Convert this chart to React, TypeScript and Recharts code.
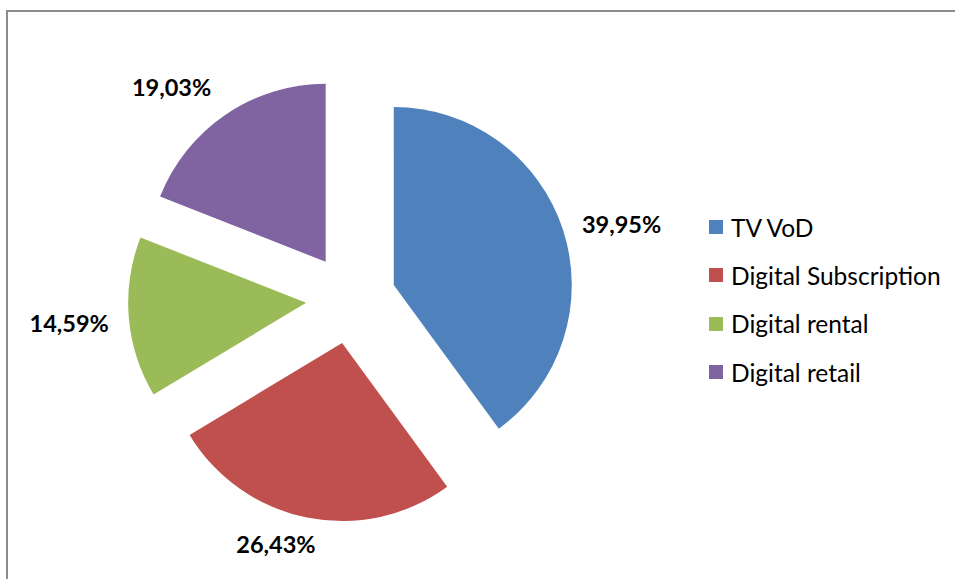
import React from "react";
import { PieChart, Pie, Cell, Legend } from "recharts";

const categories = ["TV VoD", "Digital Subscription", "Digital rental", "Digital retail"];
const shares = [39.95, 26.43, 14.59, 19.03];
const colors = ["#4F81BD", "#C0504D", "#9BBB59", "#8064A2"];

// hand nudges for the labels Excel moved off the mid line
const labelNudge = [
  [0, 0],
  [-27, -3],
  [0, 4],
  [-3, -2],
];

const data = categories.map((name, i) => ({ name, value: shares[i] }));

const CX = 346;
const CY = 294;
const RADIUS = 178;
const EXPLODE = 45;
const FONT = "Lato, 'Liberation Sans', sans-serif";

const total = shares.reduce((a, b) => a + b, 0);
// mid angle of each slice, in recharts degrees (90 = top, clockwise = decreasing)
const midAngles = shares.map((v, i) => {
  const before = shares.slice(0, i).reduce((a, b) => a + b, 0);
  return 90 - ((before + v / 2) / total) * 360;
});

const fmt = (v: number) => v.toFixed(2).replace(".", ",") + "%";

const makeLabel = (slice: number) => (props: any) => {
  const { cx, cy, midAngle, outerRadius, index } = props;
  if (index !== slice) return null;
  const rad = (-midAngle * Math.PI) / 180;
  const dx = Math.cos(rad);
  const dy = Math.sin(rad);
  const r = outerRadius + 20;
  const x = cx + r * dx + labelNudge[slice][0];
  const y = cy + r * dy + labelNudge[slice][1];
  const anchor = dx > 0.3 ? "start" : dx < -0.3 ? "end" : "middle";
  const baseline = dy > 0.5 ? "hanging" : dy < -0.5 ? "auto" : "central";
  return (
    <text
      x={x}
      y={y}
      textAnchor={anchor}
      dominantBaseline={baseline}
      fontFamily={FONT}
      fontWeight="bold"
      fontSize={23.5}
      fill="#000"
    >
      {fmt(shares[index])}
    </text>
  );
};

const LegendBox = () => (
  <div style={{ fontFamily: FONT, fontSize: 24.5, color: "#000" }}>
    {categories.map((c, i) => (
      <div key={c} style={{ display: "flex", alignItems: "center", height: 48.3 }}>
        <span
          style={{ width: 14, height: 14, background: colors[i], display: "inline-block", marginRight: 8 }}
        />
        <span>{c}</span>
      </div>
    ))}
  </div>
);

export default function App() {
  return (
    <div style={{ position: "absolute", left: 0, top: 0, width: 955, height: 579, overflow: "hidden", background: "#fff" }}>
      <div
        style={{
          position: "absolute",
          left: 6,
          top: 10,
          width: 980,
          height: 600,
          border: "2px solid #8c8c8c",
        }}
      />
      <PieChart width={955} height={579} style={{ position: "absolute", left: 0, top: 0 }}>
        {data.map((_, slice) => {
          const rad = (-midAngles[slice] * Math.PI) / 180;
          return (
            <Pie
              key={slice}
              data={data}
              dataKey="value"
              nameKey="name"
              cx={CX + EXPLODE * Math.cos(rad)}
              cy={CY + EXPLODE * Math.sin(rad)}
              outerRadius={RADIUS}
              startAngle={90}
              endAngle={-270}
              stroke="none"
              label={makeLabel(slice)}
              labelLine={false}
              isAnimationActive={false}
              legendType="none"
            >
              {data.map((d, i) => (
                <Cell key={d.name} fill={i === slice ? colors[i] : "none"} stroke="none" />
              ))}
            </Pie>
          );
        })}
        <Legend
          layout="vertical"
          content={() => <LegendBox />}
          wrapperStyle={{ position: "absolute", left: 709, top: 203, width: 240 }}
        />
      </PieChart>
    </div>
  );
}
